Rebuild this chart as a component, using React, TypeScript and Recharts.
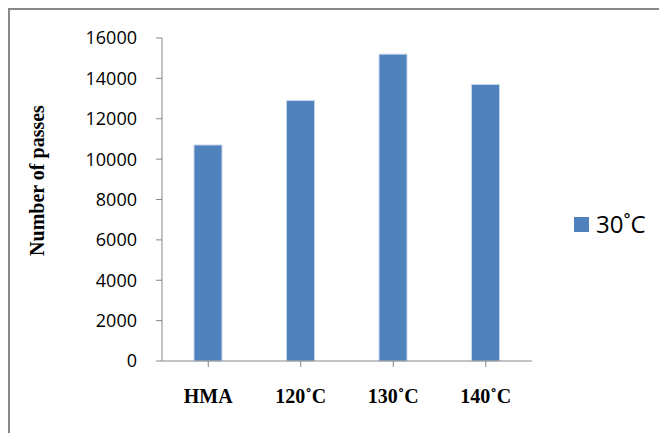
import { BarChart, Bar, XAxis, YAxis, Legend, Label } from 'recharts';

const categories = ['HMA', '120˚C', '130˚C', '140˚C'];
const passes = [10700, 12900, 15200, 13700];
const yTicks = [0, 2000, 4000, 6000, 8000, 10000, 12000, 14000, 16000];
const seriesName = '30˚C';

const data = categories.map((name, i) => ({ name, passes: passes[i] }));

const axisColor = '#868686';
const barColor = '#4F81BD';

function LegendBox() {
  return (
    <div style={{ display: 'flex', alignItems: 'center', height: 30 }}>
      <span style={{ width: 15, height: 15, background: barColor, display: 'inline-block', marginRight: 7 }} />
      <span style={{ fontFamily: '"Open Sans", sans-serif', fontSize: 24, color: '#000', lineHeight: '30px' }}>
        {seriesName}
      </span>
    </div>
  );
}

export default function App() {
  return (
    <div style={{ width: 657, height: 423, borderLeft: '2px solid #888', borderTop: '2px solid #888' }}>
      <BarChart width={657} height={423} data={data} margin={{ top: 28, right: 135, bottom: 0, left: 0 }}>
        <XAxis
          dataKey="name"
          height={72}
          stroke={axisColor}
          tickSize={6}
          tickMargin={22}
          tick={{ fontFamily: '"Liberation Serif", serif', fontWeight: 'bold', fontSize: 20, fill: '#000' }}
        />
        <YAxis
          width={152}
          domain={[0, 16000]}
          ticks={yTicks}
          stroke={axisColor}
          tickSize={6}
          tickMargin={19}
          tick={{ fontFamily: '"Open Sans", sans-serif', fontSize: 18, fill: '#000' }}
        >
          <Label
            content={({ viewBox }: any) => {
              const x = viewBox.x + 27;
              const y = viewBox.y + viewBox.height / 2 - 19;
              return (
                <text
                  x={x}
                  y={y}
                  transform={`rotate(-90, ${x}, ${y})`}
                  textAnchor="middle"
                  dominantBaseline="central"
                  fontFamily='"Liberation Serif", serif'
                  fontWeight="bold"
                  fontSize={20}
                  fill="#000"
                >
                  Number of passes
                </text>
              );
            }}
          />
        </YAxis>
        <Legend
          layout="vertical"
          align="center"
          verticalAlign="middle"
          wrapperStyle={{ left: 564, top: 199, width: 'auto' }}
          content={() => <LegendBox />}
        />
        <Bar
          dataKey="passes"
          name={seriesName}
          fill={barColor}
          stroke="#C6D6EA"
          strokeWidth={1}
          barSize={28}
          isAnimationActive={false}
        />
      </BarChart>
    </div>
  );
}
